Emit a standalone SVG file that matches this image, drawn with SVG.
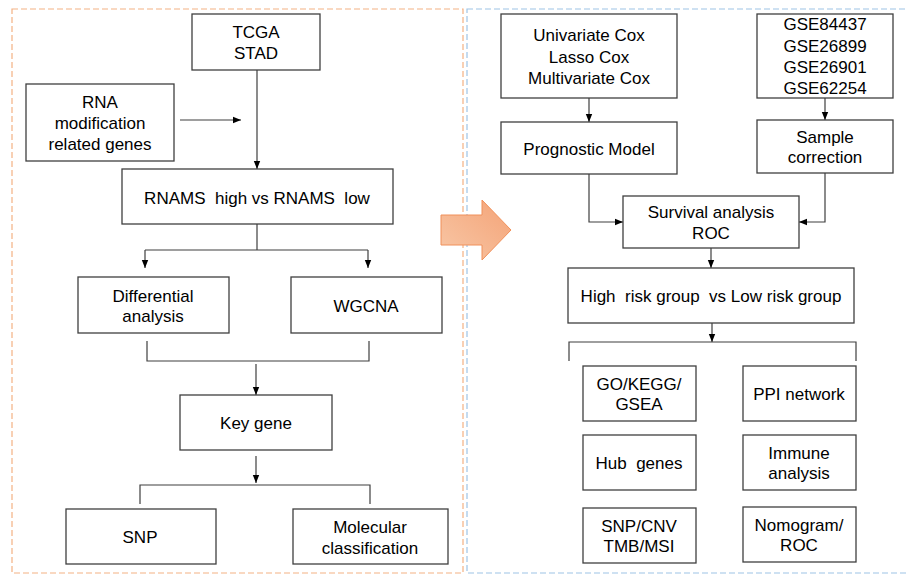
<svg xmlns="http://www.w3.org/2000/svg" width="908" height="574" viewBox="0 0 908 574">
<style>
.box{fill:#fff;stroke:#3f3f3f;stroke-width:1.3}
.t{font-family:"Liberation Sans",Arial,sans-serif;font-size:17px;fill:#000;text-anchor:middle;white-space:pre}
.ln{fill:none;stroke:#3f3f3f;stroke-width:1.2}
.ar{fill:none;stroke:#3f3f3f;stroke-width:1.2;marker-end:url(#ah)}
</style>
<defs>
<marker id="ah" viewBox="0 0 8 8" refX="8" refY="4" markerWidth="8" markerHeight="8" markerUnits="userSpaceOnUse" orient="auto">
<path d="M0,0.8 L8,4 L0,7.2 Z" fill="#000"/>
</marker>
<linearGradient id="og" x1="0" y1="1" x2="1" y2="0">
<stop offset="0" stop-color="#f8c7a6"/>
<stop offset="1" stop-color="#f4a377"/>
</linearGradient>
</defs>
<rect x="12" y="9" width="451" height="564" fill="none" stroke="#f4b183" stroke-width="1.2" stroke-dasharray="6 3"/>
<rect x="467" y="9" width="446" height="564" fill="none" stroke="#9dc3e6" stroke-width="1.2" stroke-dasharray="6 3"/>
<path d="M441,215 L482,215 L482,200 L511,230 L482,260 L482,245 L441,245 Z" fill="url(#og)" stroke="#f0905a" stroke-width="1"/>
<g id="connectors">
<path class="ar" d="M180,120 L241,120"/>
<path class="ar" d="M257,70 L257,169"/>
<path class="ln" d="M257,224 L257,250 M145,250 L368,250"/>
<path class="ar" d="M145,250 L145,268"/>
<path class="ar" d="M368,250 L368,268"/>
<path class="ln" d="M147,341 L147,361 L369,361 L369,341"/>
<path class="ar" d="M256,364 L256,395"/>
<path class="ar" d="M256,456 L256,483"/>
<path class="ln" d="M140,504 L140,485 L370,485 L370,504"/>
<path class="ar" d="M589,98 L589,122"/>
<path class="ar" d="M825,98 L825,120"/>
<path class="ar" d="M589,174 L589,222 L623,222"/>
<path class="ar" d="M825,173 L825,222 L799,222"/>
<path class="ar" d="M711,248 L711,268"/>
<path class="ar" d="M712,322 L712,342"/>
<path class="ln" d="M569,361 L569,342 L856,342 L856,361"/>
</g>
<g id="tcga"><rect class="box" x="192" y="14" width="128" height="56"/><text class="t" x="256" y="38">TCGA</text><text class="t" x="256" y="59">STAD</text></g>
<g id="rnamod"><rect class="box" x="26" y="84" width="148" height="77"/><text class="t" x="100" y="108">RNA</text><text class="t" x="100" y="129">modification</text><text class="t" x="100" y="150">related genes</text></g>
<g id="rnams"><rect class="box" x="122" y="169" width="271" height="55"/><text class="t" x="257" y="204">RNAMS  high vs RNAMS  low</text></g>
<g id="diff"><rect class="box" x="78" y="277" width="151" height="56"/><text class="t" x="153" y="302">Differential</text><text class="t" x="153" y="322">analysis</text></g>
<g id="wgcna"><rect class="box" x="291" y="277" width="151" height="56"/><text class="t" x="366" y="312">WGCNA</text></g>
<g id="keygene"><rect class="box" x="180" y="395" width="152" height="55"/><text class="t" x="256" y="429">Key gene</text></g>
<g id="snp"><rect class="box" x="66" y="509" width="150" height="55"/><text class="t" x="140" y="543">SNP</text></g>
<g id="molecular"><rect class="box" x="293" y="509" width="155" height="55"/><text class="t" x="370" y="533">Molecular</text><text class="t" x="370" y="554">classification</text></g>
<g id="cox"><rect class="box" x="501" y="14" width="176" height="84"/><text class="t" x="589" y="41">Univariate Cox</text><text class="t" x="589" y="63">Lasso Cox</text><text class="t" x="589" y="84">Multivariate Cox</text></g>
<g id="gse"><rect class="box" x="757" y="14" width="136" height="84"/><text class="t" x="825" y="30">GSE84437</text><text class="t" x="825" y="52">GSE26899</text><text class="t" x="825" y="73">GSE26901</text><text class="t" x="825" y="94">GSE62254</text></g>
<g id="prognostic"><rect class="box" x="501" y="122" width="176" height="52"/><text class="t" x="589" y="155">Prognostic Model</text></g>
<g id="sample"><rect class="box" x="757" y="120" width="136" height="53"/><text class="t" x="825" y="143">Sample</text><text class="t" x="825" y="163">correction</text></g>
<g id="survival"><rect class="box" x="623" y="196" width="176" height="52"/><text class="t" x="711" y="218">Survival analysis</text><text class="t" x="711" y="239">ROC</text></g>
<g id="highlow"><rect class="box" x="568" y="268" width="286" height="55"/><text class="t" x="711" y="302">High  risk group  vs Low risk group</text></g>
<g id="gokegg"><rect class="box" x="583" y="366" width="113" height="55"/><text class="t" x="639" y="390">GO/KEGG/</text><text class="t" x="639" y="410">GSEA</text></g>
<g id="ppi"><rect class="box" x="743" y="366" width="113" height="55"/><text class="t" x="799" y="400">PPI network</text></g>
<g id="hub"><rect class="box" x="583" y="435" width="113" height="55"/><text class="t" x="639" y="469">Hub  genes</text></g>
<g id="immune"><rect class="box" x="743" y="435" width="113" height="55"/><text class="t" x="799" y="459">Immune</text><text class="t" x="799" y="479">analysis</text></g>
<g id="snpcnv"><rect class="box" x="583" y="508" width="113" height="55"/><text class="t" x="639" y="532">SNP/CNV</text><text class="t" x="639" y="552">TMB/MSI</text></g>
<g id="nomogram"><rect class="box" x="743" y="507" width="113" height="55"/><text class="t" x="799" y="531">Nomogram/</text><text class="t" x="799" y="551">ROC</text></g>
</svg>
